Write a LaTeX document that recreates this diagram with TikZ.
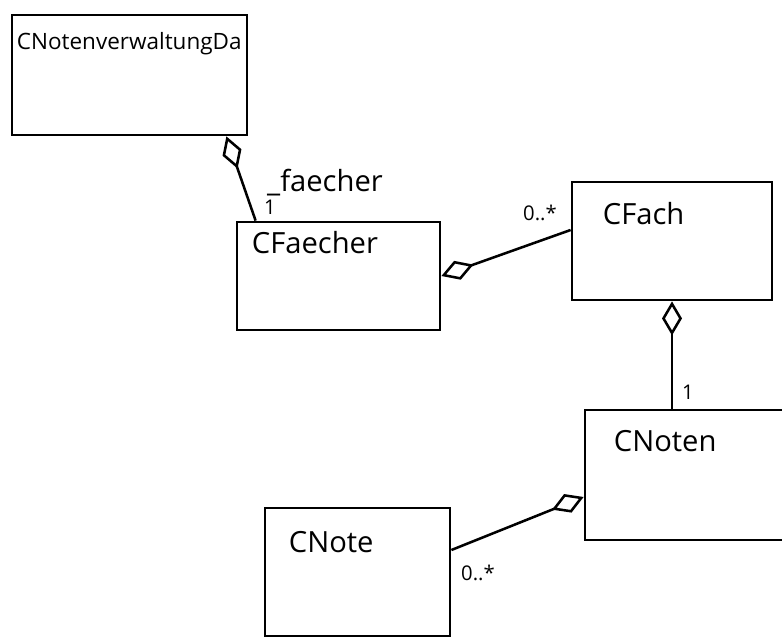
\documentclass[tikz,border=0pt]{standalone}
\usepackage{fontspec}
\setsansfont{Open Sans}
\usetikzlibrary{arrows.meta}
\begin{document}
\begin{tikzpicture}[x=0.025cm, y=-0.025cm]
	\tikzset{box/.style = {draw, line width=2pt, inner sep=0pt, font=\sffamily},
	         aggr/.style = {line width=1.8pt, -{Diamond[open, length=0.85cm, width=0.5cm, line width=1.8pt]}},
	         mult/.style = {font=\sffamily\Large}}
	\useasboundingbox (0,0) rectangle (782,638);
	% classes
	\node[box, minimum width=235*0.025cm, minimum height=120*0.025cm] (verw) at (129.5,75) {};
	\node[anchor=west, font=\sffamily\fontsize{16}{18}\selectfont, inner sep=0pt] at ([xshift=6*0.025cm, yshift=-30*0.025cm]verw.north west) {CNotenverwaltungDa};
	\node[box, minimum width=203*0.025cm, minimum height=108*0.025cm] (faecher) at (338.5,276) {};
	\node[anchor=west, font=\sffamily\huge, inner sep=0pt] at ([xshift=16*0.025cm, yshift=-22*0.025cm]faecher.north west) {CFaecher};
	\node[box, minimum width=200*0.025cm, minimum height=118*0.025cm] (fach) at (672,241) {};
	\node[anchor=west, font=\sffamily\huge, inner sep=0pt] at ([xshift=32*0.025cm, yshift=-33*0.025cm]fach.north west) {CFach};
	\node[box, minimum width=205*0.025cm, minimum height=130*0.025cm] (noten) at (687.5,475) {};
	\node[anchor=west, font=\sffamily\huge, inner sep=0pt] at ([xshift=30*0.025cm, yshift=-32*0.025cm]noten.north west) {CNoten};
	\node[box, minimum width=185*0.025cm, minimum height=128*0.025cm] (note) at (357.5,572) {};
	\node[anchor=west, font=\sffamily\huge, inner sep=0pt] at ([xshift=25*0.025cm, yshift=-35*0.025cm]note.north west) {CNote};
	% associations
	\draw[aggr] ([xshift=20*0.025cm]faecher.north west) -- ([xshift=-22*0.025cm]verw.south east);
	\draw[aggr] ([yshift=11*0.025cm]fach.west) -- (faecher.east);
	\draw[aggr] (fach.south |- noten.north) -- (fach.south);
	\draw[aggr] ([yshift=22*0.025cm]note.east) -- ([yshift=-22*0.025cm]noten.west);
	% roles and multiplicities
	\node[font=\sffamily\huge] at (325,183) {\_faecher};
	\node[mult] at (270,207) {1};
	\node[mult] at (540,213) {0..*};
	\node[mult] at (688,392) {1};
	\node[mult] at (478,573) {0..*};
\end{tikzpicture}
\end{document}
